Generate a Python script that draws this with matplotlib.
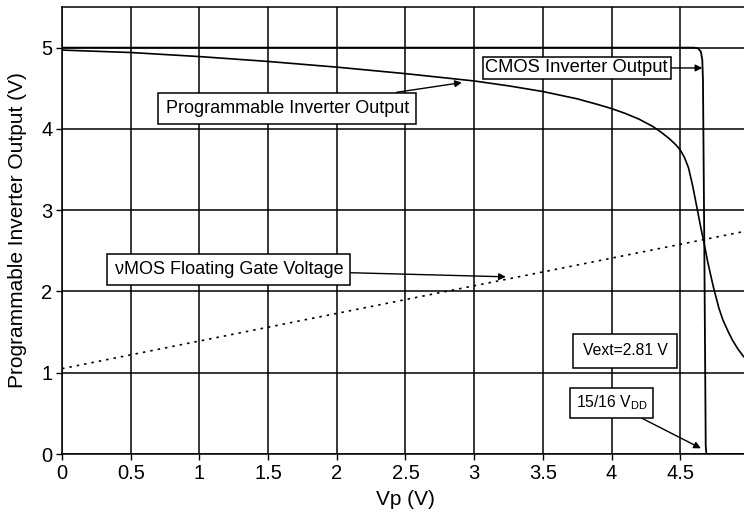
import numpy as np
import matplotlib
matplotlib.use("Agg")
import matplotlib.pyplot as plt

plt.rcParams['font.family'] = ['Liberation Sans', 'DejaVu Sans']

# programmable inverter output
vp_prog = [0, 0.5, 1.0, 1.5, 2.0, 2.5, 3.0, 3.25, 3.5, 3.75, 3.9, 4.0, 4.1, 4.2, 4.3,
           4.36, 4.42, 4.47, 4.5, 4.53, 4.56, 4.59, 4.62, 4.65, 4.67, 4.70, 4.74,
           4.78, 4.81, 4.85, 4.88, 4.92, 4.96, 5.0]
vout_prog = [4.97, 4.94, 4.89, 4.83, 4.76, 4.68, 4.59, 4.53, 4.46, 4.37, 4.30, 4.25,
             4.19, 4.12, 4.03, 3.96, 3.88, 3.80, 3.74, 3.65, 3.52, 3.30, 3.04, 2.78,
             2.62, 2.36, 2.06, 1.80, 1.65, 1.50, 1.40, 1.29, 1.20, 1.13]

# CMOS inverter output
vp_cmos = [0, 4.60, 4.63, 4.65, 4.66, 4.665, 4.675, 4.685, 4.69, 5.0]
vout_cmos = [5.0, 5.0, 4.99, 4.95, 4.85, 4.6, 2.5, 0.1, 0.0, 0.0]

# floating gate voltage
vp_fg = [0, 5.0]
v_fg = [1.05, 2.75]

xticks = [0, 0.5, 1, 1.5, 2, 2.5, 3, 3.5, 4, 4.5, 5]
xtick_labels = ['0', '0.5', '1', '1.5', '2', '2.5', '3', '3.5', '4', '4.5', '5']
yticks = [0, 1, 2, 3, 4, 5]

fig = plt.figure(figsize=(7.44, 5.17), dpi=100)
ax = fig.add_axes([62 / 744, 63 / 517, 687 / 744, 447 / 517])

for x in xticks:
    ax.axvline(x, color='black', lw=1.1, zorder=1)
for y in yticks:
    ax.axhline(y, color='black', lw=1.1, zorder=1)

ax.plot(vp_prog, vout_prog, color='black', lw=1.2, zorder=3)
ax.plot(vp_cmos, vout_cmos, color='black', lw=1.3, zorder=3)
ax.plot(vp_fg, v_fg, color='black', lw=1.2, ls=(0, (1.5, 3)), zorder=3)

ax.set_xlim(0, 5)
ax.set_ylim(0, 5.5)
ax.set_xticks(xticks)
ax.set_xticklabels(xtick_labels)
ax.set_yticks(yticks)
ax.tick_params(direction='out', length=4, width=1, labelsize=14.5, pad=3)
ax.set_xlabel('Vp (V)', fontsize=15, labelpad=5)
ax.set_ylabel('Programmable Inverter Output (V)', fontsize=15, labelpad=10)
for s in ax.spines.values():
    s.set_linewidth(1.1)

box = dict(boxstyle='square,pad=0.4', fc='white', ec='black', lw=1.1)
arrow = dict(arrowstyle='-|>', color='black', lw=1.0, mutation_scale=10,
             shrinkA=0, shrinkB=0)

ax.annotate('CMOS Inverter Output', xy=(4.66, 4.75), xytext=(3.745, 4.75),
            ha='center', va='center', fontsize=13.2,
            bbox=dict(boxstyle='square,pad=0.15', fc='white', ec='black', lw=1.1),
            arrowprops=arrow, zorder=5)
ax.annotate('Programmable Inverter Output', xy=(2.91, 4.57), xytext=(1.64, 4.25),
            ha='center', va='center', fontsize=13, bbox=box, arrowprops=arrow, zorder=5)
ax.annotate('\u03bdMOS Floating Gate Voltage', xy=(3.23, 2.18), xytext=(1.215, 2.27),
            ha='center', va='center', fontsize=13, bbox=box, arrowprops=arrow, zorder=5)
ax.text(4.10, 1.27, 'Vext=2.81 V', ha='center', va='center', fontsize=11.3,
        bbox=dict(boxstyle='square,pad=0.6', fc='white', ec='black', lw=1.1), zorder=5)
ax.annotate('15/16 V$_{\\mathregular{DD}}$', xy=(4.65, 0.07), xytext=(4.0, 0.63),
            ha='center', va='center', fontsize=11.3,
            bbox=dict(boxstyle='square,pad=0.35', fc='white', ec='black', lw=1.1),
            arrowprops=arrow, zorder=5)

fig.savefig('out.png', dpi=100)
